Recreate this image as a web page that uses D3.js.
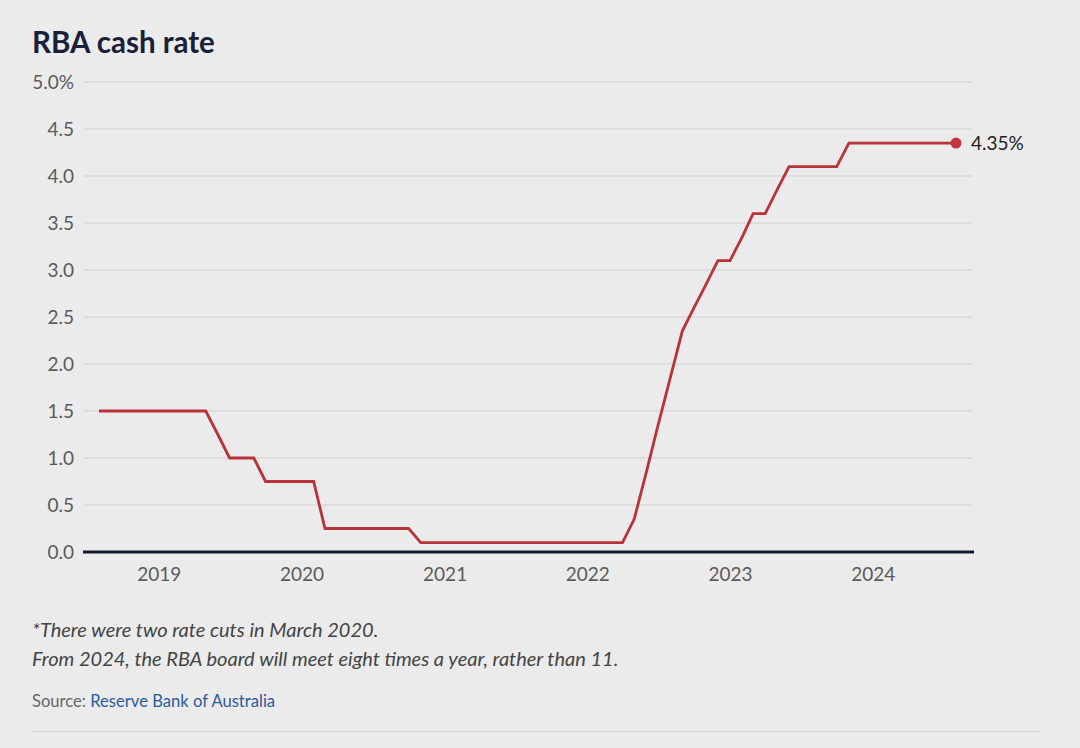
<!DOCTYPE html>
<html><head><meta charset="utf-8">
<script src="https://cdn.jsdelivr.net/npm/d3@7"></script>
<style>
html,body{margin:0;padding:0;background:#ebebeb;}
svg{display:block;}
</style></head>
<body>
<svg id="chart" width="1080" height="748"></svg>
<script>
const months = ["2018-08","2018-09","2018-10","2018-11","2018-12",
"2019-01","2019-02","2019-03","2019-04","2019-05","2019-06","2019-07","2019-08","2019-09","2019-10","2019-11","2019-12",
"2020-01","2020-02","2020-03","2020-04","2020-05","2020-06","2020-07","2020-08","2020-09","2020-10","2020-11","2020-12",
"2021-01","2021-02","2021-03","2021-04","2021-05","2021-06","2021-07","2021-08","2021-09","2021-10","2021-11","2021-12",
"2022-01","2022-02","2022-03","2022-04","2022-05","2022-06","2022-07","2022-08","2022-09","2022-10","2022-11","2022-12",
"2023-01","2023-02","2023-03","2023-04","2023-05","2023-06","2023-07","2023-08","2023-09","2023-10","2023-11","2023-12",
"2024-01","2024-02","2024-03","2024-04","2024-05","2024-06","2024-07","2024-08"];
const cashRate = [1.5,1.5,1.5,1.5,1.5,
1.5,1.5,1.5,1.5,1.5,1.25,1.0,1.0,1.0,0.75,0.75,0.75,
0.75,0.75,0.25,0.25,0.25,0.25,0.25,0.25,0.25,0.25,0.10,0.10,
0.10,0.10,0.10,0.10,0.10,0.10,0.10,0.10,0.10,0.10,0.10,0.10,
0.10,0.10,0.10,0.10,0.35,0.85,1.35,1.85,2.35,2.60,2.85,3.10,
3.10,3.35,3.60,3.60,3.85,4.10,4.10,4.10,4.10,4.10,4.35,4.35,
4.35,4.35,4.35,4.35,4.35,4.35,4.35,4.35];
const yTicks = [0,0.5,1,1.5,2,2.5,3,3.5,4,4.5,5];
const xTickYears = [2019,2020,2021,2022,2023,2024];
const title = "RBA cash rate";
const notes = ["*There were two rate cuts in March 2020.","From 2024, the RBA board will meet eight times a year, rather than 11."];

const parse = d3.timeParse("%Y-%m");
const data = months.map((m,i)=>({date:parse(m), value:cashRate[i]}));

const svg = d3.select("#chart");
const FONT = "Lato, 'Open Sans', sans-serif";

const x = d3.scaleTime().domain([data[0].date, data[data.length-1].date]).range([99,956]);
const y = d3.scaleLinear().domain([0,5]).range([552,82]);

svg.append("text").attr("x",32).attr("y",53).text(title)
  .attr("font-family",FONT).attr("font-weight",700).attr("font-size",29.5).attr("fill","#18203a");

// gridlines
svg.append("g").selectAll("line").data(yTicks.filter(d=>d>0)).join("line")
  .attr("x1",84).attr("x2",972).attr("y1",d=>y(d)).attr("y2",d=>y(d))
  .attr("stroke","#cfcfcf").attr("stroke-width",1);

// y axis labels
const yAxis = d3.axisLeft(y).tickValues(yTicks).tickSize(0).tickPadding(0)
  .tickFormat(d=> d===5 ? d3.format(".1f")(d)+"%" : d3.format(".1f")(d));
const gy = svg.append("g").attr("transform","translate(74,0)").call(yAxis);
gy.select(".domain").remove();
gy.selectAll("text").attr("font-family",FONT).attr("font-size",19).attr("fill","#5a5a5a").attr("dy","0.35em");

// x axis
const xAxis = d3.axisBottom(x).tickValues(xTickYears.map(yr=>new Date(yr,0,1))).tickSize(0).tickPadding(0)
  .tickFormat(d3.timeFormat("%Y"));
const gx = svg.append("g").attr("transform","translate(0,552)").call(xAxis);
gx.select(".domain").remove();
gx.selectAll("text").attr("font-family",FONT).attr("font-size",19).attr("fill","#5a5a5a").attr("dy","0").attr("y",29);

// baseline
svg.append("line").attr("x1",83).attr("x2",974).attr("y1",y(0)).attr("y2",y(0))
  .attr("stroke","#111a2c").attr("stroke-width",3);

// line
const line = d3.line().x(d=>x(d.date)).y(d=>y(d.value));
svg.append("path").datum(data).attr("d",line).attr("fill","none")
  .attr("stroke","#b8333a").attr("stroke-width",2.8).attr("stroke-linejoin","miter");

const last = data[data.length-1];
svg.append("circle").attr("cx",x(last.date)).attr("cy",y(last.value)).attr("r",5.5).attr("fill","#c5343f");
svg.append("text").attr("x",x(last.date)+15).attr("y",y(last.value)).attr("dy","0.35em")
  .text(d3.format(".2f")(last.value)+"%")
  .attr("font-family",FONT).attr("font-size",19).attr("fill","#222");

// notes
notes.forEach((n,i)=>{
  svg.append("text").attr("x",32).attr("y",637+i*29).text(n)
    .attr("font-family",FONT).attr("font-style","italic").attr("font-size",20).attr("fill","#444");
});
const src = svg.append("text").attr("x",32).attr("y",707).attr("font-family",FONT).attr("font-size",16.6);
src.append("tspan").text("Source: ").attr("fill","#666");
src.append("tspan").text("Reserve Bank of Australia").attr("fill","#2a5b9c");

svg.append("line").attr("x1",32).attr("x2",1040).attr("y1",731.5).attr("y2",731.5)
  .attr("stroke","#d4d4d4").attr("stroke-width",1.2);
</script>
</body></html>
